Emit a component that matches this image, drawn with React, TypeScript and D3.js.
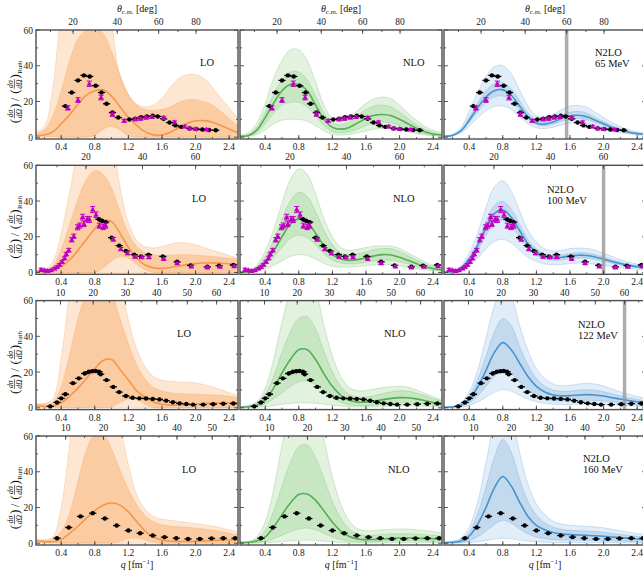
import React, { useEffect } from 'react';
import * as d3 from 'd3';

// grid on which the theory bands were read
const qGrid = [0.1, 0.2, 0.3, 0.4, 0.5, 0.6, 0.7, 0.8, 0.9, 1.0, 1.1, 1.2, 1.3, 1.4, 1.5, 1.6, 1.7, 1.8, 1.9, 2.0, 2.1, 2.2, 2.3, 2.4, 2.5];
const energies = [65, 100, 122, 160];
const kCm = [1.56, 2.0, 2.25, 2.6]; // q = 2 k sin(theta/2)
const orders = ['LO', 'NLO', 'N2LO'];
const qTicks = [0.4, 0.8, 1.2, 1.6, 2.0, 2.4];
const yTicks = [0, 20, 40, 60];
const thetaTicks = [[20, 40, 60, 80], [20, 40, 60], [10, 20, 30, 40, 50, 60], [10, 20, 30, 40, 50]];
const thetaCut = 60;

// ---- 65 MeV
const lo65Mid = [1, 1.2, 3, 7.5, 12.5, 18.5, 23.5, 26, 26.5, 23, 17, 11, 6.5, 3, 1.3, 1.2, 2.8, 5.3, 7.8, 9.2, 9.3, 8.4, 6.6, 4.6, 2.6];
const lo65InLo = [0.5, 0.5, 0.3, 0, 0, 0, 0, 1, 4.5, 6, 4, 0.5, 0, 0, 0, 0, 0, 0, 0, 0, 0, 0, 0, 0, 0];
const lo65InHi = [2, 4, 12, 26, 43, 55, 60, 61, 58, 48, 35, 24, 18, 15.5, 15, 15.5, 17, 19.5, 21, 21, 20, 18, 14.5, 10.5, 6.5];
const lo65OutLo = [0, 0, 0, 0, 0, 0, 0, 0, 0, 0, 0, 0, 0, 0, 0, 0, 0, 0, 0, 0, 0, 0, 0, 0, 0];
const lo65OutHi = [3, 6, 28, 70, 95, 110, 115, 110, 95, 65, 34, 23.5, 18.5, 17, 18, 22, 28, 33, 35, 35, 33, 28, 22, 16.5, 11];

const nlo65Mid = [0.5, 1, 4, 11, 19, 26, 29.5, 29.5, 26, 18, 10, 5.5, 4.5, 5.5, 8, 10.5, 12.3, 12.7, 12, 10, 7.5, 5, 3, 1.8, 1.2];
const nlo65InLo = [0.3, 0.6, 2.5, 7.5, 13.5, 18, 19.5, 19.5, 17, 12, 6.5, 3, 2.5, 3, 4.5, 6.5, 8, 8.5, 8, 6.5, 5, 3, 2, 1.2, 0.8];
const nlo65InHi = [0.8, 1.5, 5.5, 14, 24, 32, 36.5, 36.5, 32, 23, 13.5, 8, 7, 8.5, 12, 15.5, 17.5, 18, 17, 14, 10.5, 7, 4.5, 2.8, 1.8];
const nlo65OutLo = [0.1, 0.3, 1.5, 4, 7.5, 9.5, 10, 10, 9, 6.5, 3.5, 1.5, 1.2, 1.5, 2.5, 3.5, 4.5, 5, 5, 4, 3, 2, 1.2, 0.8, 0.5];
const nlo65OutHi = [1.2, 2.5, 8, 19, 33, 43, 49, 49, 43, 31, 18, 10.5, 9, 11, 15, 19, 21.5, 22.5, 21.5, 18, 13.5, 9.5, 6, 4, 2.5];

const n2lo65Mid = [0.5, 1, 3.5, 9.5, 16.5, 22.5, 26, 26.5, 23.5, 17.5, 11.5, 8, 7.3, 8.5, 10.5, 12, 12.3, 11.5, 9.5, 7.5, 5.5, 4, 2.8, 2, 1.5];
const n2lo65InLo = [0.4, 0.9, 3, 8.3, 14.3, 19.5, 22.6, 23, 20.5, 15.2, 10, 7, 6.3, 7.3, 9, 10.3, 10.5, 9.9, 8.2, 6.5, 4.8, 3.4, 2.4, 1.7, 1.3];
const n2lo65InHi = [0.6, 1.2, 4, 11, 19, 26, 30, 30.5, 27, 20.5, 13.5, 9.5, 8.5, 10, 12.5, 14, 14.5, 13.5, 11, 8.8, 6.5, 4.7, 3.3, 2.4, 1.8];
const n2lo65OutLo = [0.3, 0.6, 2.3, 6.2, 10.8, 14.8, 17.2, 17.5, 15.5, 11.5, 7.6, 5.3, 4.8, 5.6, 6.9, 7.9, 8.1, 7.6, 6.3, 5, 3.6, 2.6, 1.8, 1.3, 1];
const n2lo65OutHi = [0.8, 1.6, 5.3, 14.5, 25, 34, 39.5, 40, 35.5, 26.5, 17.5, 12, 11, 12.8, 15.5, 17.5, 17.8, 16.8, 14, 11, 8.2, 6, 4.2, 3, 2.3];

// ---- 100 MeV
const lo100Mid = [0.5, 0.5, 1.5, 3.5, 7, 12.5, 18.5, 24.5, 29, 28.5, 22, 14, 8, 4.2, 2.6, 2.3, 2.8, 3.6, 4.4, 5, 5.3, 5.4, 5.2, 4.9, 4.6];
const lo100InLo = [0.3, 0.3, 0.3, 0, 0, 0, 0, 0, 2.5, 6.5, 9, 8, 4.5, 1.5, 0, 0, 0, 0, 0, 0, 0, 0, 0, 0, 0];
const lo100InHi = [1, 1, 3.5, 13, 27, 41, 52, 57, 55, 47, 34, 22, 14.5, 11, 9.8, 9.6, 9.8, 10, 10, 9.8, 9.4, 9, 8.5, 8, 7.5];
const lo100OutLo = [0, 0, 0, 0, 0, 0, 0, 0, 0, 0, 0, 0, 0, 0, 0, 0, 0, 0, 0, 0, 0, 0, 0, 0, 0];
const lo100OutHi = [1.5, 1.5, 6, 22, 45, 70, 90, 100, 95, 78, 48, 28, 18, 14.5, 13.8, 14.5, 16, 16.8, 16.5, 15.5, 14, 12.5, 11, 9.5, 8];

const nlo100Mid = [0.3, 0.5, 2, 6, 12, 20, 27, 30, 28, 22, 15, 10, 7.5, 6.8, 7.2, 8.2, 9.3, 10, 9.8, 8.5, 6.8, 5, 3.4, 2.2, 1.4];
const nlo100InLo = [0.2, 0.3, 1.3, 4.2, 8.5, 14, 19, 21, 19.5, 15.5, 10.5, 7, 5.3, 4.8, 5, 5.8, 6.5, 7, 6.8, 6, 4.8, 3.5, 2.4, 1.6, 1];
const nlo100InHi = [0.5, 0.8, 3, 9, 18, 30, 40, 45, 42.5, 34, 23.5, 15.5, 11, 10, 10.5, 11.5, 12.8, 13.5, 13.3, 11.8, 9.5, 7, 4.8, 3.2, 2];
const nlo100OutLo = [0.1, 0.2, 0.7, 2, 4, 6.5, 9, 10, 9.5, 7.5, 5, 3.5, 3, 3, 3.3, 3.8, 4.2, 4.5, 4.4, 3.8, 3, 2.2, 1.5, 1, 0.6];
const nlo100OutHi = [0.7, 1, 4, 12, 24, 39, 52, 58, 55, 44, 30, 20, 14, 12.5, 13, 14, 14.8, 15, 14.8, 13.5, 11, 8.5, 6, 4, 2.5];

const n2lo100Mid = [0.3, 0.6, 2.5, 7.5, 15, 25, 33, 35, 31, 23.5, 16, 11.5, 9, 8.2, 8.5, 9.2, 9.7, 9.5, 8.7, 7.5, 6.2, 5, 4, 3.2, 2.5];
const n2lo100InLo = [0.25, 0.5, 2.1, 6.3, 12.5, 20.8, 27.5, 29.3, 26, 19.7, 13.4, 9.6, 7.5, 6.9, 7.1, 7.7, 8.1, 8, 7.3, 6.3, 5.2, 4.2, 3.4, 2.7, 2.1];
const n2lo100InHi = [0.4, 0.7, 2.9, 8.5, 17, 28.5, 37.5, 39.8, 35.5, 27, 18.4, 13.2, 10.3, 9.4, 9.8, 10.6, 11.1, 10.9, 10, 8.6, 7.1, 5.8, 4.6, 3.7, 2.9];
const n2lo100OutLo = [0.15, 0.3, 1.3, 4, 8, 13.3, 17.5, 18.6, 16.5, 12.5, 8.5, 6.1, 4.8, 4.4, 4.5, 5, 5.3, 5.2, 4.7, 4, 3.3, 2.7, 2.2, 1.7, 1.3];
const n2lo100OutHi = [0.5, 0.9, 3.7, 11, 22, 36.5, 48, 51.3, 45.5, 34.5, 23.5, 17, 13.2, 12, 12.5, 13.4, 13.7, 13.5, 12.5, 10.8, 9, 7.3, 5.8, 4.7, 3.7];

// ---- 122 MeV
const lo122Mid = [1, 0.8, 1, 2.8, 6.5, 11, 16.5, 22, 26.5, 27, 21.5, 15.5, 9.5, 5.8, 3.3, 2, 1.5, 1.5, 1.8, 2.1, 2.4, 2.6, 2.7, 2.7, 2.6];
const lo122InLo = [0.5, 0.5, 0.3, 0, 0, 0, 0, 0, 0, 0.5, 3, 5, 4.5, 2, 0, 0, 0, 0, 0, 0, 0, 0, 0, 0, 0];
const lo122InHi = [2, 2, 3, 12, 30, 50, 65, 75, 75, 65, 50, 36, 24, 16, 11.5, 9.5, 8.5, 8, 7.8, 7.6, 7.4, 7.2, 7, 6.5, 6];
const lo122OutLo = [0, 0, 0, 0, 0, 0, 0, 0, 0, 0, 0, 0, 0, 0, 0, 0, 0, 0, 0, 0, 0, 0, 0, 0, 0];
const lo122OutHi = [2.5, 2.5, 5, 28, 65, 95, 120, 130, 130, 115, 75, 49, 33, 23, 17.5, 15.5, 14.8, 14.5, 14.3, 14, 13, 11.8, 10.2, 8.5, 7];

const nlo122Mid = [0.3, 0.6, 1.5, 4.5, 11, 19.5, 27, 32.5, 32.5, 27, 19, 12, 7, 4.2, 3.2, 3.2, 3.8, 4.6, 5.3, 5.7, 5.6, 5, 4, 3, 2.2];
const nlo122InLo = [0.15, 0.3, 0.8, 2.2, 5, 8.5, 12, 14.5, 15, 12.8, 9, 5.5, 3, 1.7, 1.2, 1.2, 1.5, 2, 2.4, 2.7, 2.8, 2.6, 2.2, 1.7, 1.3];
const nlo122InHi = [0.5, 0.9, 2.5, 7.5, 17.5, 31, 42.5, 50, 51, 44, 31.5, 20, 12, 7.5, 6, 6, 6.8, 8, 9, 9.5, 9.3, 8.3, 6.8, 5.2, 3.8];
const nlo122OutLo = [0, 0, 0.2, 0.6, 1.2, 2, 2.5, 2.8, 2.8, 2.5, 2, 1.5, 1, 0.6, 0.4, 0.4, 0.5, 0.7, 0.9, 1, 1, 0.9, 0.8, 0.6, 0.5];
const nlo122OutHi = [0.7, 1.3, 3.5, 11, 27, 48, 65, 75, 75, 66, 46, 29, 17.5, 11.5, 9.5, 9.7, 10.5, 11.3, 11.9, 12.1, 11.6, 10, 8.2, 6.2, 4.5];

const n2lo122Mid = [0.3, 0.5, 1.5, 4.8, 11.5, 21, 31, 36.5, 32.5, 25, 17.5, 12, 8.8, 7.2, 6.7, 6.8, 7.2, 7.4, 7.2, 6.6, 5.7, 4.9, 4.1, 3.4, 2.8];
const n2lo122InLo = [0.2, 0.3, 0.9, 2.7, 6.6, 12, 17.7, 20.8, 19.1, 14.3, 10, 6.8, 5, 4.1, 3.8, 3.9, 4.1, 4.2, 4.1, 3.8, 3.2, 2.8, 2.3, 1.9, 1.6];
const n2lo122InHi = [0.4, 0.7, 2.1, 6.6, 15.8, 28.8, 42.5, 50, 46, 34.3, 24, 16.4, 12.1, 9.9, 9.2, 9.3, 9.9, 10.1, 9.9, 9, 7.8, 6.7, 5.6, 4.7, 3.8];
const n2lo122OutLo = [0.1, 0.15, 0.4, 1.3, 3.2, 5.9, 8.7, 10.2, 9.4, 7, 4.9, 3.4, 2.5, 2, 1.9, 1.9, 2, 2.1, 2, 1.8, 1.6, 1.4, 1.1, 0.9, 0.8];
const n2lo122OutHi = [0.6, 0.9, 2.8, 8.9, 21, 39, 57, 67, 62, 46, 32, 22, 16.3, 13.3, 12.4, 12.6, 13.3, 13.7, 13.3, 12.2, 10.5, 9, 7.6, 6.3, 5.2];

// ---- 160 MeV
const lo160Mid = [1.2, 0.9, 0.8, 2, 5.5, 9.5, 14, 18.3, 21.3, 22.5, 21.3, 17.5, 12, 6.8, 3.5, 1.8, 1.2, 1, 1, 1.1, 1.3, 1.5, 1.7, 1.8, 1.9];
const lo160InLo = [0.5, 0.4, 0.2, 0, 0, 0, 0, 0, 0, 0, 1, 2.6, 2.8, 1.8, 0.5, 0, 0, 0, 0, 0, 0, 0, 0, 0, 0];
const lo160InHi = [1.8, 1.5, 2.5, 6.5, 17, 35, 52, 61, 61, 53, 41, 30, 21.5, 15.5, 12, 10.3, 9.6, 9.2, 8.9, 8.5, 8, 7.3, 6.5, 5.6, 4.7];
const lo160OutLo = [0, 0, 0, 0, 0, 0, 0, 0, 0, 0, 0, 0, 0, 0, 0, 0, 0, 0, 0, 0, 0, 0, 0, 0, 0];
const lo160OutHi = [2.5, 2, 3.5, 20, 55, 90, 115, 125, 125, 110, 68, 44, 27, 19, 15, 13.5, 12.8, 12.2, 11.6, 11, 10.3, 9.6, 8.6, 7.5, 6.3];

const nlo160Mid = [0.4, 0.5, 1.2, 3.5, 9, 16, 22.5, 27.3, 27.5, 24, 18, 11.8, 6.8, 3.8, 2.4, 2, 2.1, 2.4, 2.7, 2.9, 2.9, 2.8, 2.7, 2.5, 2.3];
const nlo160InLo = [0.2, 0.2, 0.4, 1, 2.5, 4.5, 6.5, 8, 8.5, 7.5, 5.5, 3.5, 2, 1.1, 0.8, 0.7, 0.8, 1, 1.2, 1.3, 1.3, 1.3, 1.2, 1.1, 1];
const nlo160InHi = [0.6, 0.8, 2.4, 7, 18, 32, 45, 54, 55, 48, 36, 23.5, 14, 8, 5.2, 4.4, 4.5, 4.9, 5.2, 5.3, 5.3, 5.1, 4.8, 4.4, 3.9];
const nlo160OutLo = [0, 0, 0, 0.2, 0.5, 0.9, 1.3, 1.6, 1.7, 1.5, 1.1, 0.7, 0.4, 0.2, 0.1, 0.1, 0.1, 0.2, 0.2, 0.3, 0.3, 0.3, 0.3, 0.3, 0.2];
const nlo160OutHi = [0.8, 1.1, 3.5, 12, 30, 55, 75, 88, 88, 76, 58, 37, 22, 12.5, 8.2, 7, 7.1, 7.5, 7.8, 8, 7.9, 7.6, 7.1, 6.5, 5.8];

const n2lo160Mid = [0.3, 0.5, 1.3, 4, 10.5, 20, 31, 37.3, 32, 23, 15, 10, 7.5, 6, 5.2, 4.8, 4.6, 4.4, 4.2, 3.9, 3.5, 3.1, 2.7, 2.4, 2.1];
const n2lo160InLo = [0.1, 0.2, 0.4, 1.4, 3.6, 6.8, 10.5, 12.8, 11.3, 7.9, 5.2, 3.4, 2.5, 2, 1.8, 1.7, 1.6, 1.6, 1.5, 1.4, 1.3, 1.2, 1, 0.9, 0.8];
const n2lo160InHi = [0.5, 0.8, 2, 6.3, 16.5, 31.5, 48, 58, 51, 36, 23.5, 15.7, 11.5, 9, 7.8, 7.2, 7, 6.8, 6.5, 6.1, 5.5, 4.9, 4.3, 3.8, 3.3];
const n2lo160OutLo = [0, 0, 0.1, 0.3, 0.8, 1.5, 2.3, 2.8, 2.5, 1.8, 1.2, 0.8, 0.6, 0.4, 0.4, 0.4, 0.4, 0.4, 0.4, 0.3, 0.3, 0.3, 0.2, 0.2, 0.2];
const n2lo160OutHi = [0.7, 1.1, 2.8, 9, 23, 45, 68, 82, 72, 51, 33, 22, 16, 12.3, 10.7, 10, 9.7, 9.5, 9.1, 8.6, 7.8, 7, 6.1, 5.4, 4.7];

// ---- experimental points [q, ratio, error]
const exp65 = [[0.45, 17.4, 0.8], [0.525, 25, 0.8], [0.6, 31.8, 0.8], [0.67, 34.6, 0.8], [0.74, 34, 0.8], [0.81, 28.8, 0.8], [0.88, 25, 0.8], [0.94, 18.7, 0.7], [1.01, 13.8, 0.7], [1.08, 11, 0.6], [1.21, 9.9, 0.6], [1.28, 10.3, 0.6], [1.35, 11.2, 0.6], [1.42, 11.6, 0.6], [1.49, 12, 0.6], [1.55, 11.6, 0.6], [1.62, 10.3, 0.5], [1.69, 8.2, 0.5], [1.76, 6.6, 0.5], [1.83, 5.8, 0.5], [1.93, 4.9, 0.4], [2.01, 4.5, 0.4], [2.08, 4.3, 0.4], [2.16, 4, 0.4], [2.24, 3.9, 0.4]];
const tri65 = [[0.48, 16.4, 1.2], [0.6, 20.8, 1.3], [0.735, 29.9, 1.5], [0.875, 22.2, 1.3], [1.01, 12.9, 1.2], [1.15, 9.2, 0.8], [1.28, 10, 0.8], [1.345, 10.4, 0.8], [1.41, 11, 0.8], [1.48, 11.3, 0.8], [1.62, 10.9, 0.8], [1.75, 8.4, 0.7], [1.87, 6, 0.7], [1.93, 5, 0.6], [2.0, 4.6, 0.6], [2.13, 4.3, 0.6]];
const exp100 = [[0.85, 29.8, 0.8], [0.89, 28.8, 0.8], [0.93, 28.2, 0.8], [1.0, 19.5, 0.7], [1.09, 15, 0.6], [1.17, 12.1, 0.5], [1.27, 10, 0.5], [1.35, 9, 0.5], [1.44, 10, 0.5], [1.61, 9, 0.5], [1.78, 6, 0.4], [1.94, 4, 0.4], [2.14, 3.2, 0.4], [2.28, 3.8, 0.4], [2.45, 4.2, 0.4]];
const tri100 = [[0.16, 1.6, 0.8], [0.2, 1.2, 0.6], [0.24, 0.9, 0.5], [0.28, 1.3, 0.5], [0.32, 2.2, 0.6], [0.35, 3.1, 0.6], [0.38, 4.3, 0.7], [0.41, 6, 0.8], [0.44, 8, 0.8], [0.46, 10.3, 1], [0.49, 12.5, 1], [0.525, 18.3, 1.2], [0.55, 20.3, 1.2], [0.595, 25.3, 1.4], [0.62, 26.3, 1.4], [0.655, 31, 1.6], [0.67, 27.2, 1.5], [0.71, 29.8, 1.6], [0.735, 29.6, 1.6], [0.775, 35.2, 1.7], [0.815, 32.3, 1.6], [0.855, 26.2, 1.4], [0.9, 25.4, 1.4], [0.93, 26.2, 1.4], [1.02, 18.6, 1.1], [1.11, 13.1, 0.9], [1.19, 10.8, 0.8], [1.28, 8.8, 0.7], [1.36, 8.5, 0.7], [1.445, 8.6, 0.7], [1.62, 7.6, 0.6], [1.78, 5.2, 0.5], [1.95, 3.4, 0.5], [2.14, 2.8, 0.5], [2.29, 3.2, 0.5], [2.46, 3.5, 0.5]];
const exp122 = [[0.27, 0.8, 0.6], [0.35, 3, 0.6], [0.4, 5.3, 0.6], [0.45, 7.6, 0.7], [0.54, 13.8, 0.7], [0.61, 16.5, 0.8], [0.68, 19.2, 0.8], [0.73, 20.2, 0.8], [0.77, 20.5, 0.8], [0.81, 20.6, 0.8], [0.85, 20.2, 0.8], [0.87, 18.8, 0.8], [0.94, 15.5, 0.7], [1.02, 11.7, 0.6], [1.09, 8.8, 0.5], [1.17, 6.6, 0.5], [1.25, 5.6, 0.4], [1.33, 5.3, 0.4], [1.41, 5.2, 0.4], [1.49, 5, 0.4], [1.57, 4.7, 0.4], [1.65, 4, 0.4], [1.73, 3.1, 0.4], [1.81, 2.5, 0.4], [1.89, 2.1, 0.4], [1.97, 1.8, 0.4], [2.09, 1.8, 0.4], [2.21, 2, 0.4], [2.33, 2.3, 0.4], [2.45, 2.4, 0.4]];
const exp160 = [[0.35, 2.8, 0.6], [0.49, 8.8, 0.7], [0.63, 15, 0.8], [0.775, 16.8, 0.8], [0.92, 13.8, 0.7], [1.06, 9.9, 0.6], [1.2, 7.1, 0.5], [1.34, 5.6, 0.5], [1.49, 4.3, 0.4], [1.63, 3.4, 0.4], [1.77, 2.8, 0.4], [1.91, 2.4, 0.4], [2.05, 2.4, 0.4], [2.19, 2.7, 0.4], [2.33, 2.8, 0.4], [2.47, 2.8, 0.4]];

const bands = [
  [
    { mid: lo65Mid, inLo: lo65InLo, inHi: lo65InHi, outLo: lo65OutLo, outHi: lo65OutHi },
    { mid: nlo65Mid, inLo: nlo65InLo, inHi: nlo65InHi, outLo: nlo65OutLo, outHi: nlo65OutHi },
    { mid: n2lo65Mid, inLo: n2lo65InLo, inHi: n2lo65InHi, outLo: n2lo65OutLo, outHi: n2lo65OutHi },
  ],
  [
    { mid: lo100Mid, inLo: lo100InLo, inHi: lo100InHi, outLo: lo100OutLo, outHi: lo100OutHi },
    { mid: nlo100Mid, inLo: nlo100InLo, inHi: nlo100InHi, outLo: nlo100OutLo, outHi: nlo100OutHi },
    { mid: n2lo100Mid, inLo: n2lo100InLo, inHi: n2lo100InHi, outLo: n2lo100OutLo, outHi: n2lo100OutHi },
  ],
  [
    { mid: lo122Mid, inLo: lo122InLo, inHi: lo122InHi, outLo: lo122OutLo, outHi: lo122OutHi },
    { mid: nlo122Mid, inLo: nlo122InLo, inHi: nlo122InHi, outLo: nlo122OutLo, outHi: nlo122OutHi },
    { mid: n2lo122Mid, inLo: n2lo122InLo, inHi: n2lo122InHi, outLo: n2lo122OutLo, outHi: n2lo122OutHi },
  ],
  [
    { mid: lo160Mid, inLo: lo160InLo, inHi: lo160InHi, outLo: lo160OutLo, outHi: lo160OutHi },
    { mid: nlo160Mid, inLo: nlo160InLo, inHi: nlo160InHi, outLo: nlo160OutLo, outHi: nlo160OutHi },
    { mid: n2lo160Mid, inLo: n2lo160InLo, inHi: n2lo160InHi, outLo: n2lo160OutLo, outHi: n2lo160OutHi },
  ],
];
const expData = [exp65, exp100, exp122, exp160];
const triData = [tri65, tri100, [], []];

const palette: Record<string, { out: string; inner: string; line: string }> = {
  LO: { out: '#fde7d3', inner: '#fbcca1', line: '#f4974c' },
  NLO: { out: '#e2f2df', inner: '#c7e7c2', line: '#55ae55' },
  N2LO: { out: '#e1edf8', inner: '#c3d9ee', line: '#4593d0' },
};

// layout
const colLeft = [36, 240, 444];
const rowTop = [30, 165.3, 300.6, 436];
const panelW = 202;
const panelH = 109;
const serif = "'Liberation Serif', 'DejaVu Serif', serif";
// label position inside each panel (relative to panel left/top)
const labelPos = [
  [[164, 36], [163, 36], [151, 26]],
  [[156, 37], [153, 37], [103, 28]],
  [[141, 36], [144, 36], [134, 27]],
  [[146, 37], [148, 37], [139, 26]],
];

const thetaToQ = (deg: number, k: number) => 2 * k * Math.sin((deg / 2) * Math.PI / 180);

function Panel({ row, col }: { row: number; col: number }) {
  const left = colLeft[col];
  const top = rowTop[row];
  const x = d3.scaleLinear().domain([0.1, 2.505]).range([left, left + panelW]);
  const y = d3.scaleLinear().domain([-1, 60]).range([top + panelH, top]);
  const b = bands[row][col];
  const order = orders[col];
  const pal = palette[order];
  const idx = qGrid.map((_, i) => i);
  const curve = d3.curveCatmullRom.alpha(0.5);
  const area = (lo: number[], hi: number[]) =>
    d3.area<number>().x(i => x(qGrid[i])).y0(i => y(lo[i])).y1(i => y(hi[i])).curve(curve)(idx) || '';
  const line = (v: number[]) => d3.line<number>().x(i => x(qGrid[i])).y(i => y(v[i])).curve(curve)(idx) || '';
  const clipId = `clip-${row}-${col}`;
  const k = kCm[row];
  const qMax = x.domain()[1];
  const thStep = thetaTicks[row][1] - thetaTicks[row][0];
  const thMinor = d3.range(thStep / 2, 90, thStep / 2).filter(t => thetaToQ(t, k) > 0.1 && thetaToQ(t, k) < qMax);
  const qMinor = d3.range(0.2, 2.5, 0.2);
  const yMinor = [10, 30, 50];
  const qCut = thetaToQ(thetaCut, k);
  const [lx, ly] = labelPos[row][col];
  const tickCol = '#333';

  return (
    <g>
      <defs>
        <clipPath id={clipId}>
          <rect x={left} y={top} width={panelW} height={panelH} />
        </clipPath>
      </defs>
      <g clipPath={`url(#${clipId})`}>
        <path d={area(b.outLo, b.outHi)} fill={pal.out} />
        <path d={area(b.inLo, b.inHi)} fill={pal.inner} />
        {[b.outLo, b.outHi, b.inLo, b.inHi].map((v, i) => (
          <path key={i} d={line(v)} fill="none" stroke={pal.line} strokeOpacity={0.3} strokeWidth={0.8} />
        ))}
        <path d={line(b.mid)} fill="none" stroke={pal.line} strokeWidth={1.6} />
        {col === 2 && qCut < qMax && (
          <line x1={x(qCut)} x2={x(qCut)} y1={top} y2={top + panelH} stroke="#999" strokeOpacity={0.8} strokeWidth={3.5} />
        )}
        {expData[row].map(([q, v, e], i) => (
          <g key={`e${i}`}>
            <line x1={x(q)} x2={x(q)} y1={y(v - e)} y2={y(v + e)} stroke="#000" strokeWidth={1} />
            <line x1={x(q) - 3.6} x2={x(q) + 3.6} y1={y(v)} y2={y(v)} stroke="#000" strokeWidth={1.3} />
            <circle cx={x(q)} cy={y(v)} r={2.2} fill="#000" />
          </g>
        ))}
        {triData[row].map(([q, v, e], i) => {
          const cx = x(q), cy = y(v);
          return (
            <g key={`t${i}`} stroke="#c000c0" fill="#c000c0">
              <line x1={cx} x2={cx} y1={y(v - e)} y2={y(v + e)} strokeWidth={1} />
              <line x1={cx - 2.6} x2={cx + 2.6} y1={y(v - e)} y2={y(v - e)} strokeWidth={1} />
              <line x1={cx - 2.6} x2={cx + 2.6} y1={y(v + e)} y2={y(v + e)} strokeWidth={1} />
              <path d={`M${cx},${cy - 3} L${cx + 2.8},${cy + 2} L${cx - 2.8},${cy + 2} Z`} stroke="none" />
            </g>
          );
        })}
      </g>

      {/* ticks */}
      <g stroke={tickCol} strokeWidth={0.8}>
        {qTicks.map(t => (
          <line key={`qt${t}`} x1={x(t)} x2={x(t)} y1={top + panelH} y2={top + panelH - 4} />
        ))}
        {qMinor.map(t => (
          <line key={`qm${t}`} x1={x(t)} x2={x(t)} y1={top + panelH} y2={top + panelH - 2} />
        ))}
        {thetaTicks[row].filter(t => thetaToQ(t, k) < qMax).map(t => (
          <line key={`tt${t}`} x1={x(thetaToQ(t, k))} x2={x(thetaToQ(t, k))} y1={top} y2={top + 4} />
        ))}
        {thMinor.map(t => (
          <line key={`tm${t}`} x1={x(thetaToQ(t, k))} x2={x(thetaToQ(t, k))} y1={top} y2={top + 2} />
        ))}
        {yTicks.map(t => (
          <g key={`yt${t}`}>
            <line x1={left} x2={left + 4} y1={y(t)} y2={y(t)} />
            <line x1={left + panelW} x2={left + panelW - 4} y1={y(t)} y2={y(t)} />
          </g>
        ))}
        {yMinor.map(t => (
          <g key={`ym${t}`}>
            <line x1={left} x2={left + 2} y1={y(t)} y2={y(t)} />
            <line x1={left + panelW} x2={left + panelW - 2} y1={y(t)} y2={y(t)} />
          </g>
        ))}
      </g>
      <rect x={left} y={top} width={panelW} height={panelH} fill="none" stroke="#4d4d4d" strokeWidth={1.4} />

      {/* tick labels */}
      <g fontSize={9.5} fill="#222" textAnchor="middle">
        {qTicks.map(t => (
          <text key={`ql${t}`} x={x(t)} y={top + panelH + 11}>{t.toFixed(1)}</text>
        ))}
        {thetaTicks[row].filter(t => thetaToQ(t, k) < qMax).map(t => (
          <text key={`tl${t}`} x={x(thetaToQ(t, k))} y={top - 5}>{t}</text>
        ))}
        {col === 0 && yTicks.map(t => (
          <text key={`yl${t}`} x={left - 3} y={y(t) + 3.5} textAnchor="end">{t}</text>
        ))}
      </g>

      {/* order label */}
      <g fontSize={10.5} fill="#111">
        <text x={left + lx} y={top + ly}>{order}</text>
        {col === 2 && <text x={left + lx} y={top + ly + 11}>{`${energies[row]} MeV`}</text>}
      </g>
    </g>
  );
}

function YLabel({ cy }: { cy: number }) {
  return (
    <g transform={`translate(15, ${cy}) rotate(-90) scale(1.18)`} fill="#111">
      <g transform="translate(-27, 0)">
        <text x={0} y={3.5} fontSize={11}>(</text>
        <text x={8.3} y={-2} fontSize={6.5} textAnchor="middle" fontStyle="italic">dσ</text>
        <line x1={4.3} x2={12.5} y1={-0.4} y2={-0.4} stroke="#111" strokeWidth={0.5} />
        <text x={8.3} y={5.6} fontSize={6.5} textAnchor="middle" fontStyle="italic">dΩ</text>
        <text x={13} y={3.5} fontSize={11}>)</text>
        <text x={19} y={3.5} fontSize={10}>/</text>
        <text x={25} y={3.5} fontSize={11}>(</text>
        <text x={33.3} y={-2} fontSize={6.5} textAnchor="middle" fontStyle="italic">dσ</text>
        <line x1={29.3} x2={37.5} y1={-0.4} y2={-0.4} stroke="#111" strokeWidth={0.5} />
        <text x={33.3} y={5.6} fontSize={6.5} textAnchor="middle" fontStyle="italic">dΩ</text>
        <text x={38} y={3.5} fontSize={11}>)</text>
        <text x={42} y={6.2} fontSize={5.8}>Ruth</text>
      </g>
    </g>
  );
}

export default function App() {
  useEffect(() => {
    document.body.style.margin = '0';
  }, []);
  return (
    <svg width={643} height={572} style={{ display: 'block', background: '#fff' }} fontFamily={serif}>
      {rowTop.map((_, r) => colLeft.map((__, c) => <Panel key={`${r}-${c}`} row={r} col={c} />))}
      {rowTop.map((t, r) => <YLabel key={`yl${r}`} cy={t + panelH / 2 + 7} />)}
      {colLeft.map((l, c) => (
        <text key={`th${c}`} x={l + panelW / 2} y={12} textAnchor="middle" fontSize={10} fill="#111">
          <tspan fontStyle="italic">θ</tspan>
          <tspan fontSize={7} fontStyle="italic" dy={2}>c.m.</tspan>
          <tspan dy={-2}> [deg]</tspan>
        </text>
      ))}
      {colLeft.map((l, c) => (
        <text key={`qx${c}`} x={l + panelW / 2} y={568} textAnchor="middle" fontSize={10} fill="#111">
          <tspan fontStyle="italic">q</tspan>
          <tspan> [fm</tspan>
          <tspan fontSize={7} dy={-4}>−1</tspan>
          <tspan dy={4}>]</tspan>
        </text>
      ))}
    </svg>
  );
}
